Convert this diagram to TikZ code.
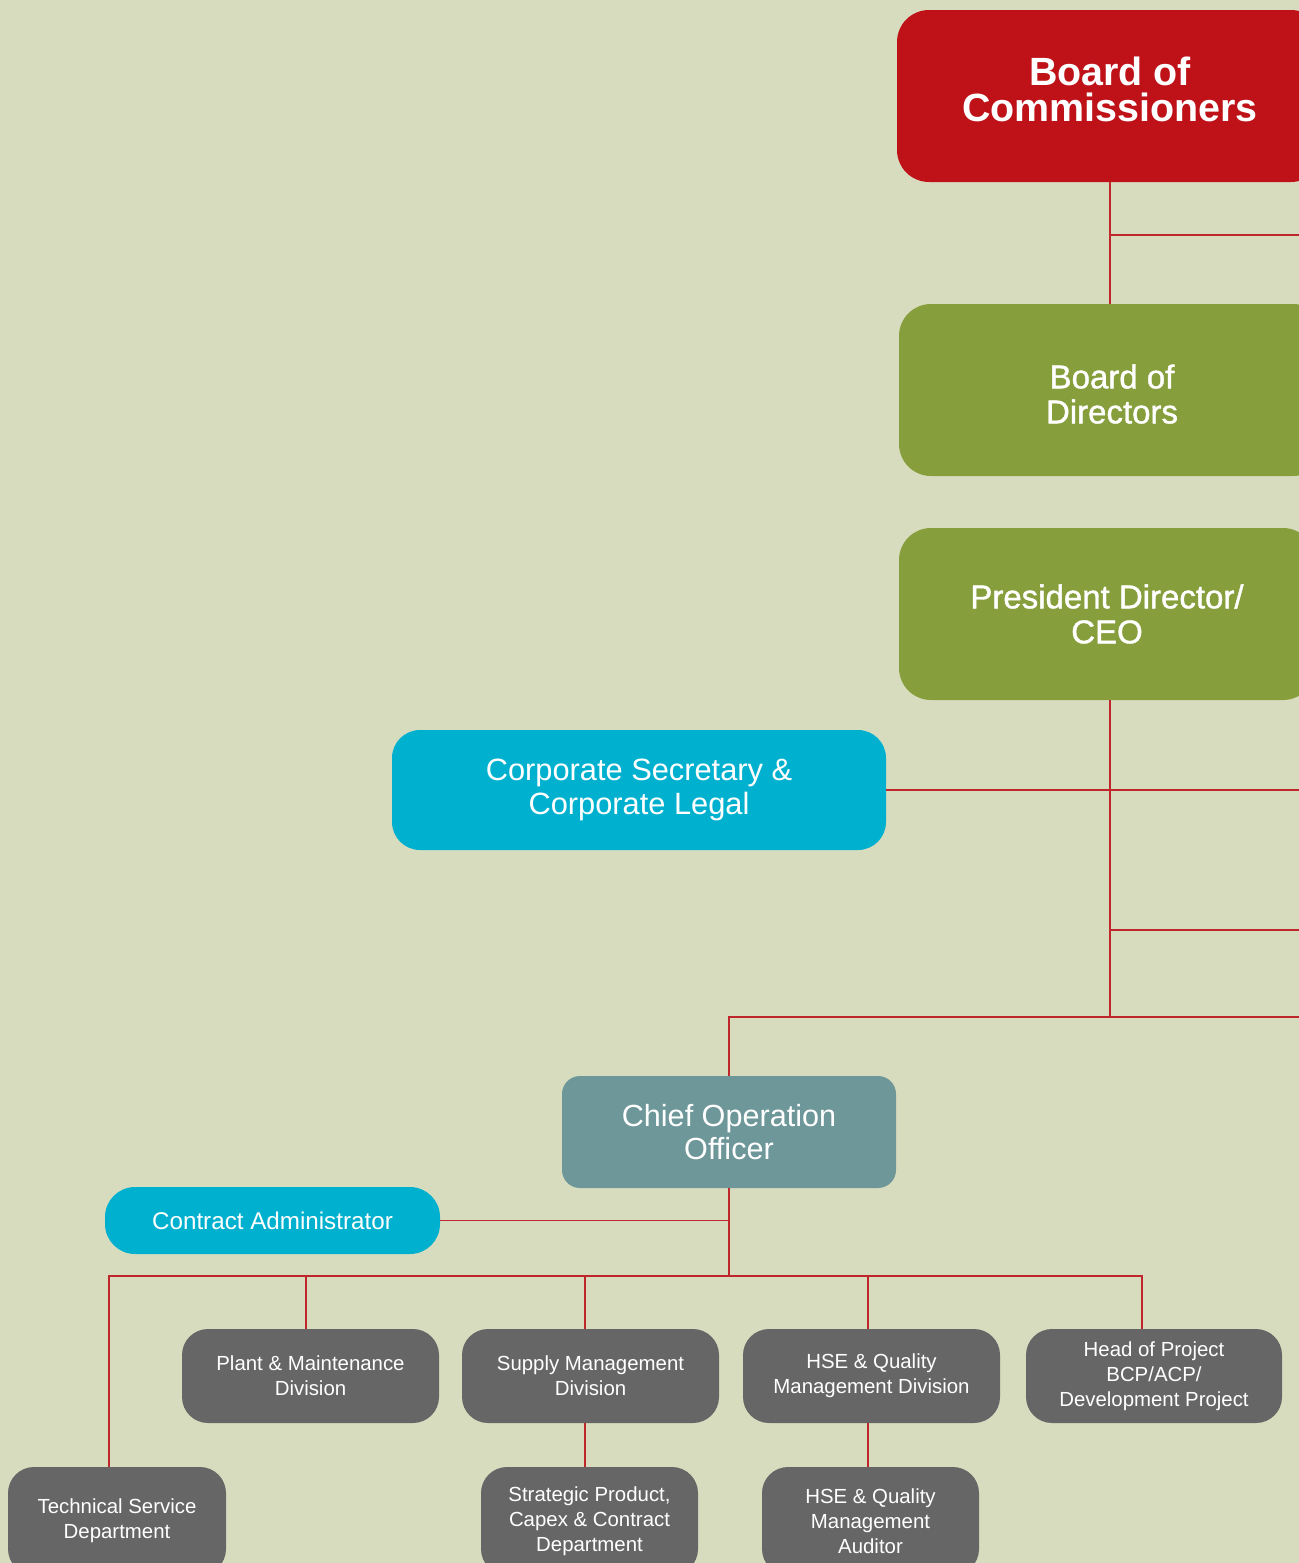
\documentclass[tikz,border=0pt]{standalone}
\usepackage{fontspec}
\setmainfont{Liberation Sans}
\newfontfamily\mediumfont[FakeBold=1.2]{Liberation Sans}
\usepackage{tikz}
\usetikzlibrary{positioning}
\definecolor{paper}{HTML}{D8DCBF}
\definecolor{boardred}{HTML}{BE1218}
\definecolor{boardgreen}{HTML}{869E3C}
\definecolor{staffcyan}{HTML}{00B1CF}
\definecolor{cooteal}{HTML}{6E979A}
\definecolor{unitgray}{HTML}{666666}
\definecolor{linkred}{HTML}{C0272D}

\begin{document}
\begin{tikzpicture}[x=0.5pt, y=-0.5pt,
  box/.style={text=white, align=center, inner sep=0pt},
  board/.style={box, fill=boardgreen, minimum height=86pt, rounded corners=16pt,
    font=\mediumfont\fontsize{16.5}{17.5}\selectfont},
  staff/.style={box, fill=staffcyan},
  unit/.style={box, fill=unitgray, rounded corners=13pt, minimum height=47pt,
    font=\fontsize{10.2}{12.5}\selectfont},
  lower/.style={unit, minimum width=108.5pt, minimum height=54pt},
  link/.style={draw=linkred, line width=0.75pt}]

  % page
  \path[use as bounding box, fill=paper] (0,0) rectangle (1299,1563);
  \clip (0,0) rectangle (1299,1563);

  % boards
  \node[box, fill=boardred, minimum width=213pt, minimum height=86pt, rounded corners=16pt,
    font=\bfseries\fontsize{19.7}{18}\selectfont] (boc) at (1110,96)
    {Board of\\Commissioners\rule[-7pt]{0pt}{0pt}};
  \node[board, minimum width=213pt] (bod) at (1112,390) {\rule{0pt}{16pt}Board of\\Directors};
  \node[board, minimum width=208pt] (ceo) at (1107,614) {President Director/\\CEO};

  % staff functions
  \node[staff, minimum width=247pt, minimum height=60pt, rounded corners=14pt,
    font=\fontsize{15.4}{17}\selectfont] (corpsec) at (639,790)
    {Corporate Secretary \&\\Corporate Legal};
  \node[box, fill=cooteal, minimum width=167pt, minimum height=56pt, rounded corners=9pt,
    font=\fontsize{15.3}{16.5}\selectfont] (coo) at (729,1132) {Chief Operation\\Officer};
  \node[staff, minimum width=167.5pt, minimum height=33.5pt, rounded corners=15pt,
    font=\fontsize{12.1}{14}\selectfont] (contract) at (272.5,1220.5) {Contract Administrator};

  % divisions
  \node[unit, minimum width=128.5pt] (plant) at (310.5,1376) {Plant \& Maintenance\\Division};
  \node[unit, minimum width=128.5pt] (supply) at (590.5,1376) {Supply Management\\Division};
  \node[unit, minimum width=128.5pt] (hse) at (871.5,1376) {HSE \& Quality\\Management Division};
  \node[unit, minimum width=128pt] (head) at (1154,1376) {Head of Project\\BCP/ACP/\\Development Project};

  % departments
  \node[lower, minimum width=109pt] (techsvc) at (117,1521) {Technical Service\\Department};
  \node[lower] (strategic) at (589.5,1521) {Strategic Product,\\Capex \& Contract\\Department};
  \node[lower] (auditor) at (870.5,1521) {HSE \& Quality\\Management\\Auditor};

  % connectors
  \coordinate (comm) at (1305,235);
  \coordinate (staffline) at (1305,930);
  \coordinate (opsbus) at (1305,1017);
  \coordinate (busL) at (109,1276);
  \coordinate (busR) at (1142,1276);

  \draw[link] (boc.south) -- (boc.south |- bod.north);
  \draw[link] (boc.south |- comm) -- (comm);
  \draw[link] (boc.south |- ceo.south) -- (boc.south |- opsbus);
  \draw[link] (corpsec.east) -- (corpsec.east -| comm);
  \draw[link] (boc.south |- staffline) -- (staffline);
  \draw[link] (coo.north) -- (coo.north |- opsbus) -- (opsbus);
  \draw[link] (coo.south) -- (coo.south |- busL);
  \draw[link] (contract.east) -- (contract.east -| coo.south);
  \draw[link] (busL |- techsvc.north) -- (busL) -- (busR) -- (busR |- head.north);
  \draw[link] ([xshift=-2.25pt]plant.north) -- ([xshift=-2.25pt]plant.north |- busL);
  \draw[link] ([xshift=-2.75pt]supply.north) -- ([xshift=-2.75pt]supply.north |- busL);
  \draw[link] ([xshift=-1.75pt]hse.north) -- ([xshift=-1.75pt]hse.north |- busL);
  \draw[link] ([xshift=-2.75pt]supply.south) -- ([xshift=-2.75pt]supply.south |- strategic.north);
  \draw[link] ([xshift=-1.75pt]hse.south) -- ([xshift=-1.75pt]hse.south |- auditor.north);
\end{tikzpicture}
\end{document}
